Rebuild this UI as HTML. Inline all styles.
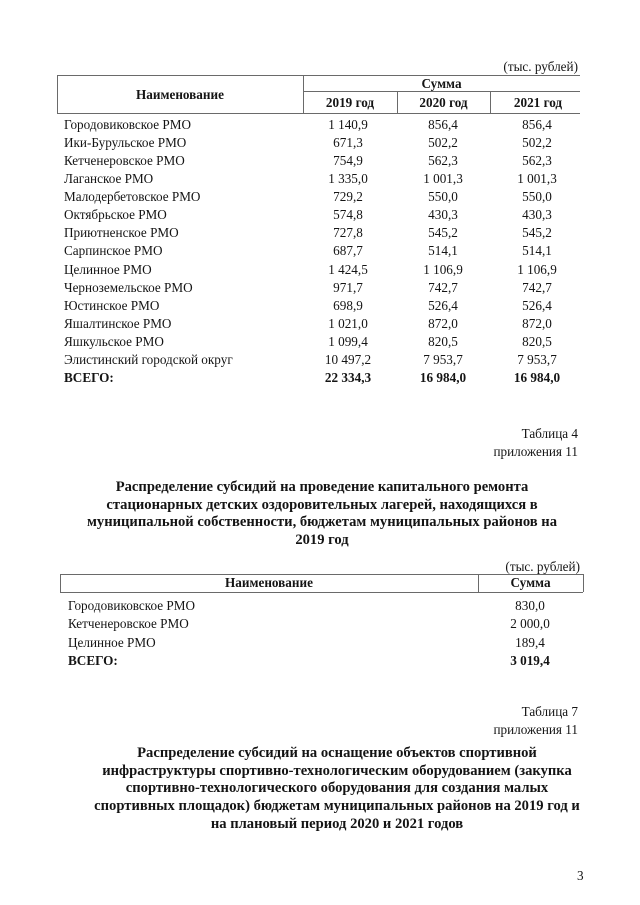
<!DOCTYPE html>
<html>
<head>
<meta charset="utf-8">
<style>
  html, body { margin:0; padding:0; background:#fff; }
  body { width:640px; height:905px; position:relative; overflow:hidden;
         font-family:"Liberation Serif", "Noto Serif CJK SC", serif; color:#141414; }
  .t { position:absolute; white-space:nowrap; font-size:13.2px; line-height:18px; }
  .b { font-weight:bold; }
  .c { text-align:center; }
  .r { text-align:right; }
  .hl { position:absolute; height:1px; background:#6a6a6a; }
  .vl { position:absolute; width:1px; background:#6a6a6a; }
  .rows { position:absolute; font-size:13.2px; line-height:18.07px; white-space:nowrap; }
  .rows div { height:18.07px; }
  .title { position:absolute; font-weight:bold; font-size:14.6px; line-height:17.7px; text-align:center; white-space:nowrap; width:600px; }
</style>
</head>
<body>

<!-- Table 1 -->
<div class="t r" style="left:400px; width:178px; top:58px;">(тыс. рублей)</div>

<div class="hl" style="left:57px; width:523px; top:75px;"></div>
<div class="hl" style="left:303px; width:277px; top:91px;"></div>
<div class="hl" style="left:57px; width:523px; top:113px;"></div>
<div class="vl" style="left:57px; top:75px; height:38px;"></div>
<div class="vl" style="left:303px; top:75px; height:38px;"></div>
<div class="vl" style="left:397px; top:91px; height:22px;"></div>
<div class="vl" style="left:490px; top:91px; height:22px;"></div>

<div class="t b c" style="left:57px; width:246px; top:86px;">Наименование</div>
<div class="t b c" style="left:303px; width:277px; top:75px;">Сумма</div>
<div class="t b c" style="left:303px; width:94px; top:94px;">2019 год</div>
<div class="t b c" style="left:397px; width:93px; top:94px;">2020 год</div>
<div class="t b c" style="left:490px; width:96px; top:94px;">2021 год</div>

<div class="rows" style="left:64px; top:116px;">
  <div>Городовиковское РМО</div>
  <div>Ики-Бурульское РМО</div>
  <div>Кетченеровское РМО</div>
  <div>Лаганское РМО</div>
  <div>Малодербетовское РМО</div>
  <div>Октябрьское РМО</div>
  <div>Приютненское РМО</div>
  <div>Сарпинское РМО</div>
  <div>Целинное РМО</div>
  <div>Черноземельское РМО</div>
  <div>Юстинское РМО</div>
  <div>Яшалтинское РМО</div>
  <div>Яшкульское РМО</div>
  <div>Элистинский городской округ</div>
  <div class="b">ВСЕГО:</div>
</div>
<div class="rows c" style="left:298px; width:100px; top:116px;">
  <div>1 140,9</div><div>671,3</div><div>754,9</div><div>1 335,0</div><div>729,2</div>
  <div>574,8</div><div>727,8</div><div>687,7</div><div>1 424,5</div><div>971,7</div>
  <div>698,9</div><div>1 021,0</div><div>1 099,4</div><div>10 497,2</div><div class="b">22 334,3</div>
</div>
<div class="rows c" style="left:393px; width:100px; top:116px;">
  <div>856,4</div><div>502,2</div><div>562,3</div><div>1 001,3</div><div>550,0</div>
  <div>430,3</div><div>545,2</div><div>514,1</div><div>1 106,9</div><div>742,7</div>
  <div>526,4</div><div>872,0</div><div>820,5</div><div>7 953,7</div><div class="b">16 984,0</div>
</div>
<div class="rows c" style="left:487px; width:100px; top:116px;">
  <div>856,4</div><div>502,2</div><div>562,3</div><div>1 001,3</div><div>550,0</div>
  <div>430,3</div><div>545,2</div><div>514,1</div><div>1 106,9</div><div>742,7</div>
  <div>526,4</div><div>872,0</div><div>820,5</div><div>7 953,7</div><div class="b">16 984,0</div>
</div>

<!-- Table 4 heading -->
<div class="t r" style="left:400px; width:178px; top:425px;">Таблица 4</div>
<div class="t r" style="left:400px; width:178px; top:443px;">приложения 11</div>

<div class="title" style="left:22px; top:479px;">
  Распределение субсидий на проведение капитального ремонта<br>
  стационарных детских оздоровительных лагерей, находящихся в<br>
  муниципальной собственности, бюджетам муниципальных районов на<br>
  2019 год
</div>

<!-- Table 2 -->
<div class="t r" style="left:400px; width:180px; top:558px;">(тыс. рублей)</div>
<div class="hl" style="left:60px; width:523px; top:574px;"></div>
<div class="hl" style="left:60px; width:523px; top:592px;"></div>
<div class="vl" style="left:60px; top:574px; height:18px;"></div>
<div class="vl" style="left:478px; top:574px; height:18px;"></div>
<div class="vl" style="left:583px; top:574px; height:18px;"></div>
<div class="t b c" style="left:60px; width:418px; top:574px;">Наименование</div>
<div class="t b c" style="left:478px; width:105px; top:574px;">Сумма</div>

<div class="rows" style="left:68px; top:597px; line-height:18.3px;">
  <div style="height:18.3px">Городовиковское РМО</div>
  <div style="height:18.3px">Кетченеровское РМО</div>
  <div style="height:18.3px">Целинное РМО</div>
  <div style="height:18.3px" class="b">ВСЕГО:</div>
</div>
<div class="rows c" style="left:480px; width:100px; top:597px; line-height:18.3px;">
  <div style="height:18.3px">830,0</div>
  <div style="height:18.3px">2 000,0</div>
  <div style="height:18.3px">189,4</div>
  <div style="height:18.3px" class="b">3 019,4</div>
</div>

<!-- Table 7 heading -->
<div class="t r" style="left:400px; width:178px; top:703px;">Таблица 7</div>
<div class="t r" style="left:400px; width:178px; top:721px;">приложения 11</div>

<div class="title" style="left:37px; top:745px;">
  Распределение субсидий на оснащение объектов спортивной<br>
  инфраструктуры спортивно-технологическим оборудованием (закупка<br>
  спортивно-технологического оборудования для создания малых<br>
  спортивных площадок) бюджетам муниципальных районов на 2019 год и<br>
  на плановый период 2020 и 2021 годов
</div>

<div class="t" style="left:577px; top:867px;">3</div>

</body>
</html>
